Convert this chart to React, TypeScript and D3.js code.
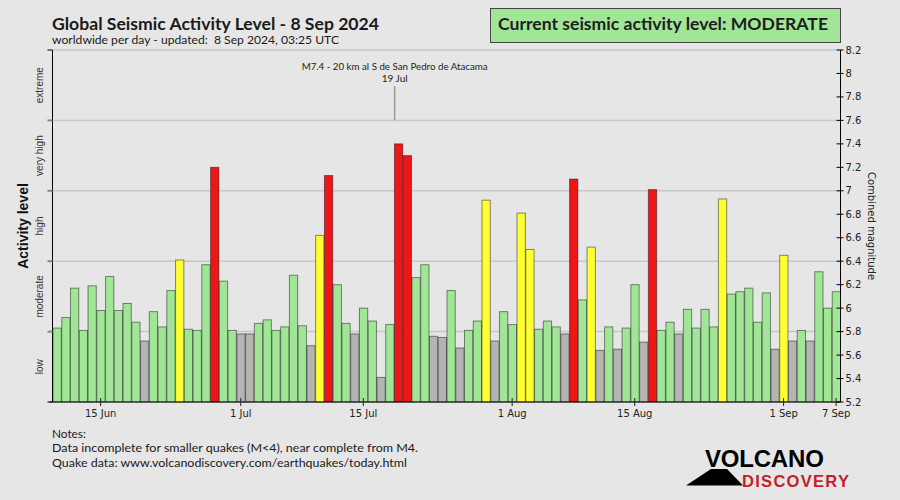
import React from "react";
import * as d3 from "d3";

// daily combined magnitude, 10 Jun .. 7 Sep 2024
const startDay = "2024-06-10";
const values = [
  5.83, 5.92, 6.17, 5.81, 6.19, 5.98, 6.27, 5.98, 6.04, 5.88,
  5.72, 5.97, 5.84, 6.15, 6.41, 5.82, 5.81, 6.37, 7.2, 6.23,
  5.81, 5.78, 5.78, 5.87, 5.9, 5.81, 5.84, 6.28, 5.85, 5.68,
  6.62, 7.13, 6.2, 5.87, 5.78, 6.0, 5.89, 5.41, 5.86, 7.4,
  7.3, 6.26, 6.37, 5.76, 5.75, 6.15, 5.66, 5.81, 5.89, 6.92,
  5.72, 5.97, 5.86, 6.81, 6.5, 5.82, 5.89, 5.84, 5.78, 7.1,
  6.07, 6.52, 5.64, 5.84, 5.65, 5.83, 6.2, 5.71, 7.01, 5.81,
  5.88, 5.78, 5.99, 5.83, 5.99, 5.84, 6.93, 6.12, 6.14, 6.17,
  5.88, 6.13, 5.65, 6.45, 5.72, 5.81, 5.72, 6.31, 6.0, 6.14,
];

const levelNames = ["low", "moderate", "high", "very high", "extreme"];
const levelBounds = [5.2, 5.8, 6.4, 7.0, 7.6, 8.2];
const levelFills = ["#b4b4b4", "#a0e696", "#ffff33", "#ee1616", "#b000b0"];

const tickDays = ["2024-06-15", "2024-07-01", "2024-07-15", "2024-08-01", "2024-08-15", "2024-09-01", "2024-09-07"];
const magTicks = [5.2, 5.4, 5.6, 5.8, 6.0, 6.2, 6.4, 6.6, 6.8, 7.0, 7.2, 7.4, 7.6, 7.8, 8.0, 8.2];

const quakeTime = "2024-07-19T01:50:00Z";
const quakeLabel = "M7.4 - 20 km al S de San Pedro de Atacama";
const quakeDate = "19 Jul";

const notes = [
  "Notes:",
  "Data incomplete for smaller quakes (M<4), near complete from M4.",
  "Quake data: www.volcanodiscovery.com/earthquakes/today.html",
];
const noteWidths = [0, 366, 355];

const W = 900;
const H = 500;
const left = 52.5;
const right = 840.5;
const top = 50;
const bottom = 402;

const calib = "Lato, 'Open Sans', sans-serif";
const dejavu = "'DejaVu Sans', sans-serif";
const arial = "'Liberation Sans', Arial, sans-serif";

export default function App() {
  const start = new Date(startDay + "T00:00:00Z");
  const days = values.map((v, i) => ({ day: d3.utcDay.offset(start, i), v }));
  const x = d3
    .scaleUtc()
    .domain([start, d3.utcDay.offset(start, values.length)])
    .range([left, right]);
  const y = d3.scaleLinear().domain([5.2, 8.2]).range([bottom, top]);
  const fillFor = (v: number) => {
    const idx = d3.bisectRight(levelBounds, v) - 1;
    return levelFills[Math.max(0, Math.min(levelFills.length - 1, idx))];
  };
  const fmtDay = d3.utcFormat("%-d %b");
  const fmtMag = d3.format(".1~f");
  const qx = x(new Date(quakeTime));

  return (
    <svg width={W} height={H} style={{ position: "absolute", left: 0, top: 0 }}>
      <rect width={W} height={H} fill="#e6e6e6" />

      {/* title */}
      <text x={52} y={29.5} fontFamily={calib} fontWeight="bold" fontSize={17.5} fill="#1a1a1a" textLength={327} lengthAdjust="spacingAndGlyphs">
        Global Seismic Activity Level - 8 Sep 2024
      </text>
      <text x={52} y={44.2} fontFamily={calib} fontSize={11} fill="#1a1a1a" textLength={287} lengthAdjust="spacingAndGlyphs" xmlSpace="preserve">
        worldwide per day - updated:  8 Sep 2024, 03:25 UTC
      </text>

      {/* current level box */}
      <rect x={490.5} y={8.5} width={350} height={34} fill="#a0e696" stroke="#444" strokeWidth={1} />
      <text x={498} y={30} fontFamily={calib} fontWeight="bold" fontSize={17.5} fill="#1e1e1e" textLength={330} lengthAdjust="spacingAndGlyphs">
        Current seismic activity level: MODERATE
      </text>

      {/* grid lines */}
      {levelBounds.slice(1).map((b) => (
        <line key={b} x1={left} x2={right} y1={y(b)} y2={y(b)} stroke="#c8c8c8" strokeWidth={1.5} />
      ))}

      {/* bars */}
      {days.map((d, i) => {
        const x0 = x(d.day);
        const x1 = x(d3.utcDay.offset(d.day, 1));
        return (
          <rect
            key={i}
            x={x0 + 0.5}
            y={y(d.v)}
            width={x1 - x0 - 0.5}
            height={bottom - y(d.v)}
            fill={fillFor(d.v)}
            stroke="rgba(0,0,0,0.45)"
            strokeWidth={1}
          />
        );
      })}

      {/* annotation */}
      <text x={qx} y={70} textAnchor="middle" fontFamily={calib} fontSize={10} fill="#222" textLength={186} lengthAdjust="spacingAndGlyphs">
        {quakeLabel}
      </text>
      <text x={qx} y={82} textAnchor="middle" fontFamily={calib} fontSize={10} fill="#222">
        {quakeDate}
      </text>
      <line x1={qx} x2={qx} y1={86} y2={y(7.6)} stroke="#9a9a9a" strokeWidth={1.5} />

      {/* left axis */}
      <line x1={left} x2={left} y1={top} y2={bottom} stroke="#000" />
      {levelBounds.map((b, i) => (
        <line
          key={b}
          x1={left - 5}
          x2={left}
          y1={y(b)}
          y2={y(b)}
          stroke={i === 0 || i === levelBounds.length - 1 ? "#000" : "#888"}
          strokeWidth={i === 0 || i === levelBounds.length - 1 ? 1 : 2}
        />
      ))}
      {levelNames.map((n, i) => {
        const cy = y((levelBounds[i] + levelBounds[i + 1]) / 2);
        return (
          <text
            key={n}
            transform={`translate(43,${cy}) rotate(-90)`}
            textAnchor="middle"
            fontFamily={arial}
            fontSize={10}
            fill="#333"
          >
            {n}
          </text>
        );
      })}
      <text
        transform={`translate(28,${(top + bottom) / 2}) rotate(-90)`}
        textAnchor="middle"
        fontFamily={arial}
        fontWeight="bold"
        fontSize={14}
        fill="#111"
      >
        Activity level
      </text>

      {/* right axis */}
      <line x1={right} x2={right} y1={top} y2={bottom} stroke="#000" />
      {magTicks.map((m) => (
        <g key={m} transform={`translate(0,${y(m)})`}>
          <line x1={right - 4} x2={right + 3} stroke="#000" />
          <text x={right + 5} dy="0.35em" fontFamily={dejavu} fontSize={10} fill="#222">
            {fmtMag(m)}
          </text>
        </g>
      ))}
      <text
        transform={`translate(868,${(top + bottom) / 2}) rotate(90)`}
        textAnchor="middle"
        fontFamily={dejavu}
        fontSize={10}
        fill="#222"
      >
        Combined magnitude
      </text>

      {/* bottom axis */}
      <line x1={left - 3} x2={right} y1={bottom} y2={bottom} stroke="#000" />
      {tickDays.map((t) => {
        const d = new Date(t + "T12:00:00Z");
        const tx = x(d);
        return (
          <g key={t} transform={`translate(${tx},0)`}>
            <line y1={bottom - 4} y2={bottom + 4} stroke="#222" />
            <text y={bottom + 15} textAnchor="middle" fontFamily={dejavu} fontSize={10} fill="#222">
              {fmtDay(d)}
            </text>
          </g>
        );
      })}

      {/* notes */}
      {notes.map((n, i) => (
        <text
          key={i}
          x={52}
          y={438 + i * 14.3}
          fontFamily={calib}
          fontSize={11.8}
          fill="#1a1a1a"
          textLength={noteWidths[i] || undefined}
          lengthAdjust={noteWidths[i] ? "spacingAndGlyphs" : undefined}
        >
          {n}
        </text>
      ))}

      {/* logo */}
      <polygon points="686,485.5 711,469 727,469 743,485.5" fill="#000" />
      <text x={705} y={467} fontFamily={arial} fontWeight="bold" fontSize={24} fill="#000" letterSpacing={-0.2}>
        VOLCANO
      </text>
      <text x={742} y={487.2} fontFamily={arial} fontWeight="bold" fontSize={16.5} fill="#c41e2a" letterSpacing={1.3}>
        DISCOVERY
      </text>
    </svg>
  );
}
